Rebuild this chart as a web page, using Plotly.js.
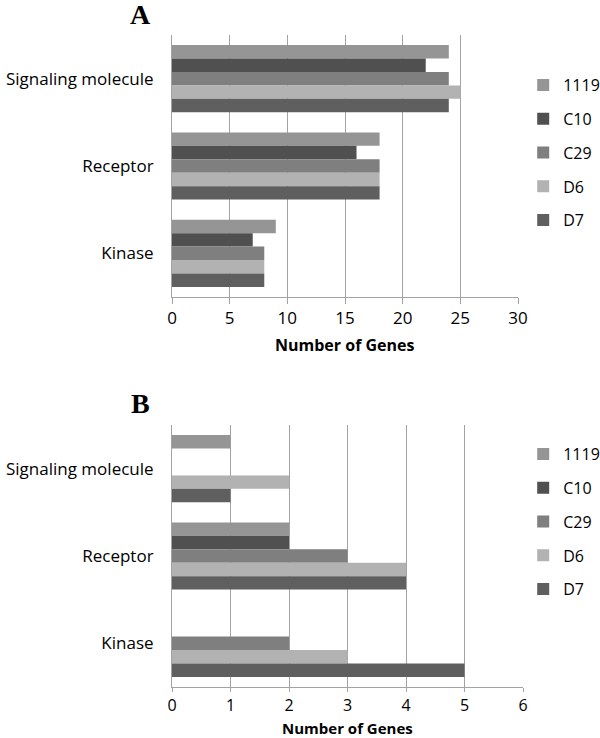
<!DOCTYPE html>
<html>
<head>
<meta charset="utf-8">
<script src="https://cdn.plot.ly/plotly-3.0.1.min.js"></script>
<style>
  html, body { margin: 0; padding: 0; background: #fff; }
  #chart { width: 600px; height: 738px; }
</style>
</head>
<body>
<div id="chart"></div>
<script>
// categories top -> bottom (the y axis is reversed below)
const categories = ["Signaling molecule", "Receptor", "Kinase"];
const seriesNames = ["1119", "C10", "C29", "D6", "D7"];
const seriesColors = ["#959595", "#505050", "#7f7f7f", "#b2b2b2", "#5f5f5f"];

// panel A values, same order as categories
const panelA = {
  "1119": [24, 18, 9],
  "C10": [22, 16, 7],
  "C29": [24, 18, 8],
  "D6": [25, 18, 8],
  "D7": [24, 18, 8],
};

// panel B values
const panelB = {
  "1119": [1, 2, 0],
  "C10": [0, 2, 0],
  "C29": [0, 3, 2],
  "D6": [2, 4, 3],
  "D7": [1, 4, 5],
};

const ticksA = [0, 5, 10, 15, 20, 25, 30];
const ticksB = [0, 1, 2, 3, 4, 5, 6];

const FONT = "'Open Sans', 'DejaVu Sans', sans-serif";
const GRID = "#a3a3a3";
const TXT = "#000";

function buildTraces(values, xa, ya, legendName) {
  return seriesNames.map((name, i) => ({
    type: "bar",
    orientation: "h",
    name: name,
    y: categories,
    x: values[name],
    xaxis: xa,
    yaxis: ya,
    legend: legendName,
    legendgroup: legendName + name,
    marker: { color: seriesColors[i], line: { width: 0 } },
    hoverinfo: "x+name",
  }));
}

const traces = [
  ...buildTraces(panelA, "x", "y", "legend"),
  ...buildTraces(panelB, "x2", "y2", "legend2"),
];

function xAxis(ticks, domain, anchor, fontSize, tickLen) {
  return {
    domain: domain,
    anchor: anchor,
    automargin: false,
    range: [0, ticks[ticks.length - 1]],
    tickvals: ticks,
    ticktext: ticks.map(String),
    showgrid: true,
    gridcolor: GRID,
    gridwidth: 1,
    showline: true,
    linecolor: GRID,
    linewidth: 1,
    ticks: "outside",
    ticklen: tickLen,
    tickcolor: GRID,
    tickfont: { family: FONT, size: fontSize, color: TXT },
    zeroline: false,
    fixedrange: true,
  };
}

function yAxis(domain, anchor) {
  return {
    domain: domain,
    anchor: anchor,
    automargin: false,
    type: "category",
    range: [2.5, -0.5],
    showgrid: false,
    showline: true,
    linecolor: GRID,
    linewidth: 1,
    ticks: "",
    ticklabelstandoff: 14,
    tickfont: { family: FONT, size: 17, color: TXT },
    fixedrange: true,
  };
}

function legendBox(yTop) {
  return {
    x: 0.872,
    xanchor: "left",
    y: yTop,
    yanchor: "top",
    traceorder: "grouped",
    tracegroupgap: 10,
    itemwidth: 30,
    font: { family: FONT, size: 16, color: TXT },
    bgcolor: "rgba(0,0,0,0)",
  };
}

function label(text, xPx, yPx, font) {
  return {
    text: text,
    xref: "paper", yref: "paper",
    x: xPx / 600, y: 1 - yPx / 738,
    xanchor: "center", yanchor: "middle",
    showarrow: false,
    borderpad: 0,
    font: font,
  };
}

const serifBold = { family: "'Liberation Serif', 'DejaVu Serif', serif", size: 28, color: "#000" };

const layout = {
  width: 600,
  height: 738,
  margin: { l: 0, r: 0, t: 0, b: 0, autoexpand: false },
  paper_bgcolor: "#fff",
  plot_bgcolor: "#fff",
  barmode: "group",
  bargap: 0.23,
  bargroupgap: 0,
  showlegend: true,
  xaxis: xAxis(ticksA, [172 / 600, 518 / 600], "y", 17, 6),
  yaxis: yAxis([1 - 297 / 738, 1 - 35 / 738], "x"),
  xaxis2: xAxis(ticksB, [172 / 600, 523 / 600], "y2", 16, 4),
  yaxis2: yAxis([1 - 687 / 738, 1 - 425 / 738], "x2"),
  legend: legendBox(1 - 68 / 738),
  legend2: legendBox(1 - 437 / 738),
  annotations: [
    label("<b>A</b>", 140, 15, serifBold),
    label("<b>B</b>", 140, 403, serifBold),
    label("<b>Number of Genes</b>", 345, 345, { family: FONT, size: 16, color: TXT }),
    label("<b>Number of Genes</b>", 347, 728, { family: FONT, size: 15, color: TXT }),
  ],
};

Plotly.newPlot("chart", traces, layout, { displayModeBar: false, staticPlot: true });
</script>
</body>
</html>
